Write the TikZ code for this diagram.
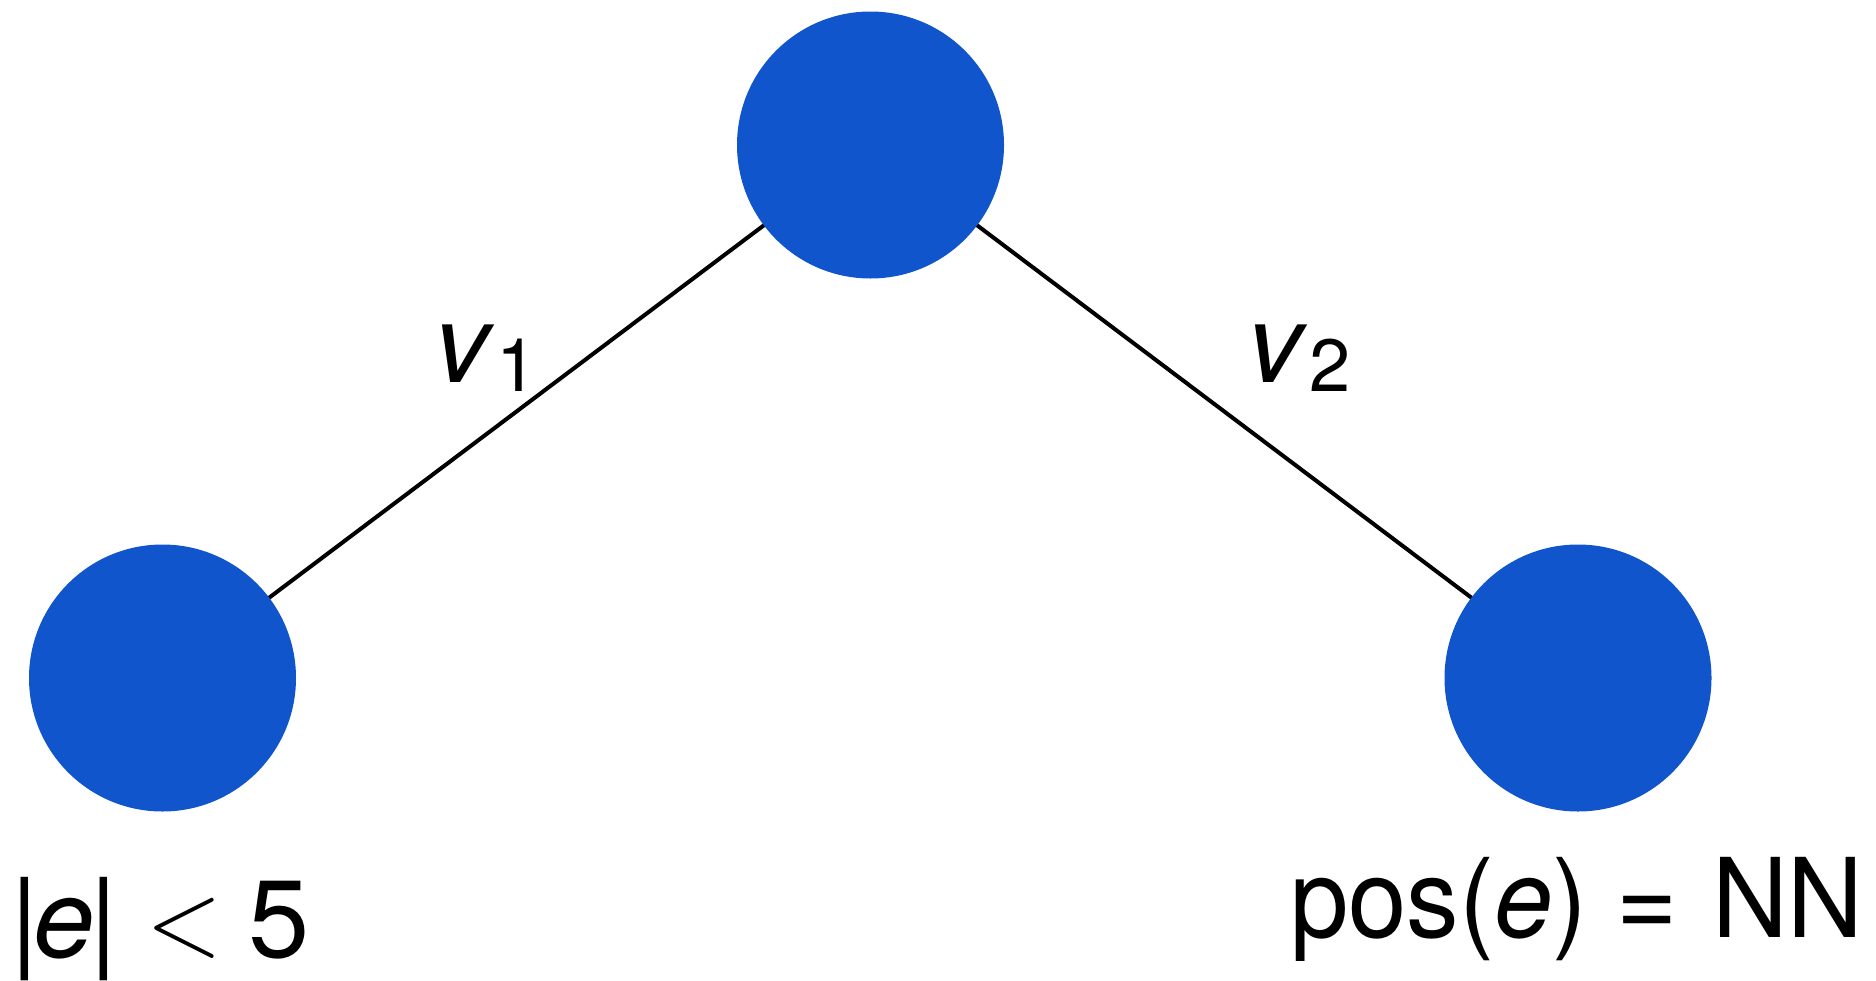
\documentclass[tikz,border=0pt]{standalone}
\usepackage{fontspec}
\setmainfont{TeX Gyre Heros}
\definecolor{nodeblue}{RGB}{16,85,204}
\tikzset{
  vertex/.style={circle, fill=nodeblue, draw=none, minimum size=267pt, inner sep=0pt},
  edgeline/.style={line width=4pt, black},
  bigtext/.style={inner sep=0pt, font=\fontsize{110}{120}\selectfont},
}
\newcommand{\subsc}[1]{\raisebox{-9pt}{\fontsize{74}{80}\selectfont #1}}
\begin{document}
\begin{tikzpicture}[x=1pt,y=-1pt]
\useasboundingbox (0,0) rectangle (1876,980);
\draw[edgeline] (870.5,145) coordinate (tc) -- (162.5,678) coordinate (lc);
\draw[edgeline] (tc) -- (1578,678) coordinate (rc);
\node[vertex] (top) at (tc) {};
\node[vertex] (left) at (lc) {};
\node[vertex] (right) at (rc) {};
\node[bigtext, anchor=base west] (l1) at (434,382) {\textit{v}\kern2pt\subsc{1}};
\node[bigtext, anchor=base west] (l2) at (1247,382) {\textit{v}\kern2pt\subsc{2}};
\node[bigtext, anchor=base west] (cond) at (10,957) {|\kern-5pt\textit{e}\kern-5pt|\kern28pt\raisebox{2pt}{\scalebox{4.0}[4.37]{$<$}}\kern26pt5};
\node[bigtext, anchor=base east] (pos) at (1864,937) {\scalebox{0.955}[1]{pos(\textit{e})\kern30pt=\kern36pt NN}};
\end{tikzpicture}
\end{document}
